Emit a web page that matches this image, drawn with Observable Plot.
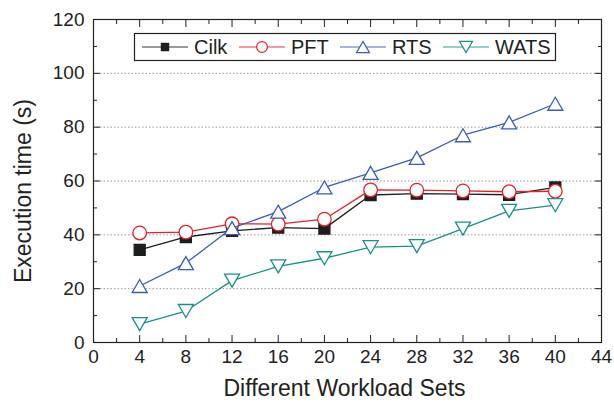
<!DOCTYPE html>
<html><head><meta charset="utf-8">
<script src="https://cdn.jsdelivr.net/npm/d3@7"></script>
<script src="https://cdn.jsdelivr.net/npm/@observablehq/plot@0.6"></script>
<style>html,body{margin:0;padding:0;background:#fff}#chart svg{display:block}</style>
</head><body><div id="chart"></div>
<script>
// ---- data ----
const workloads = [4, 8, 12, 16, 20, 24, 28, 32, 36, 40];
const cilk = [34.4, 39.2, 41.5, 42.7, 42.3, 54.8, 55.3, 55.1, 54.9, 57.6];
const pft  = [40.7, 41.0, 44.1, 44.0, 45.8, 56.7, 56.6, 56.3, 56.0, 56.2];
const rts  = [21.0, 29.5, 42.5, 48.6, 57.6, 63.0, 68.6, 77.0, 81.8, 88.7];
const wats = [6.8, 11.7, 23.0, 28.3, 31.3, 35.4, 35.8, 42.3, 48.9, 51.0];
const seriesNames = ["Cilk", "PFT", "RTS", "WATS"];
const xTicks = [0, 4, 8, 12, 16, 20, 24, 28, 32, 36, 40, 44];
const xMinor = [2, 6, 10, 14, 18, 22, 26, 30, 34, 38, 42];
const yTicks = [0, 20, 40, 60, 80, 100, 120];
const yMinor = [10, 30, 50, 70, 90, 110];
const gridValues = [20, 40, 60, 80, 100];
const xTitle = "Different Workload Sets";
const yTitle = "Execution time (s)";

// ---- styling ----
const colors = {Cilk: "#1e1e1e", PFT: "#e8202a", RTS: "#3d5cb8", WATS: "#1b9088"};
const fills = {Cilk: "#1e1e1e", PFT: "#fff", RTS: "#fff", WATS: "#fff"};
const radii = {Cilk: 5.5, PFT: 6.8, RTS: 7.5, WATS: 7.5};
const legendR = {Cilk: 3.6, PFT: 5.4, RTS: 6.5, WATS: 6.5};

const symSquare = {draw(ctx, size) { const r = Math.sqrt(size / Math.PI); ctx.rect(-r, -r, 2 * r, 2 * r); }};
const symCircle = {draw(ctx, size) { const r = Math.sqrt(size / Math.PI); ctx.moveTo(r, 0); ctx.arc(0, 0, r, 0, 2 * Math.PI); }};
const symUp = {draw(ctx, size) { const r = Math.sqrt(size / Math.PI), h = r * 0.867; ctx.moveTo(0, -h); ctx.lineTo(r, h); ctx.lineTo(-r, h); ctx.closePath(); }};
const symDown = {draw(ctx, size) { const r = Math.sqrt(size / Math.PI), h = r * 0.867; ctx.moveTo(0, h); ctx.lineTo(r, -h); ctx.lineTo(-r, -h); ctx.closePath(); }};
const symbols = {Cilk: symSquare, PFT: symCircle, RTS: symUp, WATS: symDown};

const values = {Cilk: cilk, PFT: pft, RTS: rts, WATS: wats};
const rows = seriesNames.map(name => workloads.map((w, i) => ({series: name, x: w, y: values[name][i]})));

const font = "'Liberation Sans', Arial, Helvetica, sans-serif";

const seriesMarks = rows.flatMap((d, k) => {
  const name = seriesNames[k];
  return [
    Plot.line(d, {x: "x", y: "y", stroke: colors[name], strokeWidth: 1.3}),
    Plot.dot(d, {x: "x", y: "y", r: radii[name], symbol: symbols[name], stroke: colors[name], fill: fills[name], strokeWidth: 1.3})
  ];
});

const plot = Plot.plot({
  width: 614, height: 407,
  marginLeft: 93, marginRight: 13, marginTop: 19, marginBottom: 65,
  style: {fontFamily: font, fontSize: "19px", color: "#222", background: "#fff", overflow: "visible"},
  x: {domain: [0, 44]},
  y: {domain: [0, 120]},
  marks: [
    Plot.gridY(gridValues, {stroke: "#9a9a9a", strokeOpacity: 1, strokeDasharray: "1.5,2"}),
    Plot.axisX(xTicks, {tickSize: -7, tickFormat: () => "", label: null, stroke: "#222"}),
    Plot.axisX(xMinor, {tickSize: -4, tickFormat: () => "", label: null, stroke: "#222"}),
    Plot.axisX(xTicks, {anchor: "top", tickSize: -7, tickFormat: () => "", label: null, stroke: "#222"}),
    Plot.axisX(xMinor, {anchor: "top", tickSize: -4, tickFormat: () => "", label: null, stroke: "#222"}),
    Plot.axisY(yTicks, {tickSize: -7, tickFormat: () => "", label: null, stroke: "#222"}),
    Plot.axisY(yMinor, {tickSize: -4, tickFormat: () => "", label: null, stroke: "#222"}),
    Plot.axisY(yTicks, {anchor: "right", tickSize: -7, tickFormat: () => "", label: null, stroke: "#222"}),
    Plot.axisY(yMinor, {anchor: "right", tickSize: -4, tickFormat: () => "", label: null, stroke: "#222"}),
    Plot.axisX(xTicks, {tickSize: 0, tickPadding: 7, label: null, fill: "#222"}),
    Plot.axisY(yTicks, {tickSize: 0, tickPadding: 9, label: null, fill: "#222"}),
    Plot.frame({stroke: "#222", strokeWidth: 1.2}),
    ...seriesMarks,
    Plot.text([xTitle], {frameAnchor: "bottom", textAnchor: "middle", dx: -3, dy: 53, fontSize: 23, fill: "#222"}),
    Plot.text([yTitle], {frameAnchor: "left", textAnchor: "middle", rotate: -90, dx: -70, dy: 10, fontSize: 23, fill: "#222"})
  ]
});

document.getElementById("chart").appendChild(plot);

// ---- legend (inside plot, top) ----
const svg = d3.select(plot);
const lg = svg.append("g").attr("font-family", font).attr("font-size", 20).attr("fill", "#222").attr("text-anchor", "start");
lg.append("rect").attr("x", 134.5).attr("y", 33.5).attr("width", 421).attr("height", 27)
  .attr("fill", "#fff").attr("stroke", "#222").attr("stroke-width", 1.2);
const legendX = {Cilk: 142, PFT: 239, RTS: 340, WATS: 443};
seriesNames.forEach(name => {
  const x0 = legendX[name], cy = 47, cx = x0 + 23;
  lg.append("line").attr("x1", x0).attr("x2", x0 + 46).attr("y1", cy).attr("y2", cy)
    .attr("stroke", colors[name]).attr("stroke-opacity", 0.6).attr("stroke-width", 1.4);
  const r = legendR[name];
  lg.append("path").attr("transform", `translate(${cx},${cy})`)
    .attr("d", d3.symbol(symbols[name], Math.PI * r * r)())
    .attr("fill", fills[name]).attr("stroke", colors[name]).attr("stroke-width", 1.2);
  lg.append("text").attr("x", x0 + 52).attr("y", cy).attr("dy", "0.35em").attr("text-anchor", "start").text(name);
});
</script>
</body></html>
